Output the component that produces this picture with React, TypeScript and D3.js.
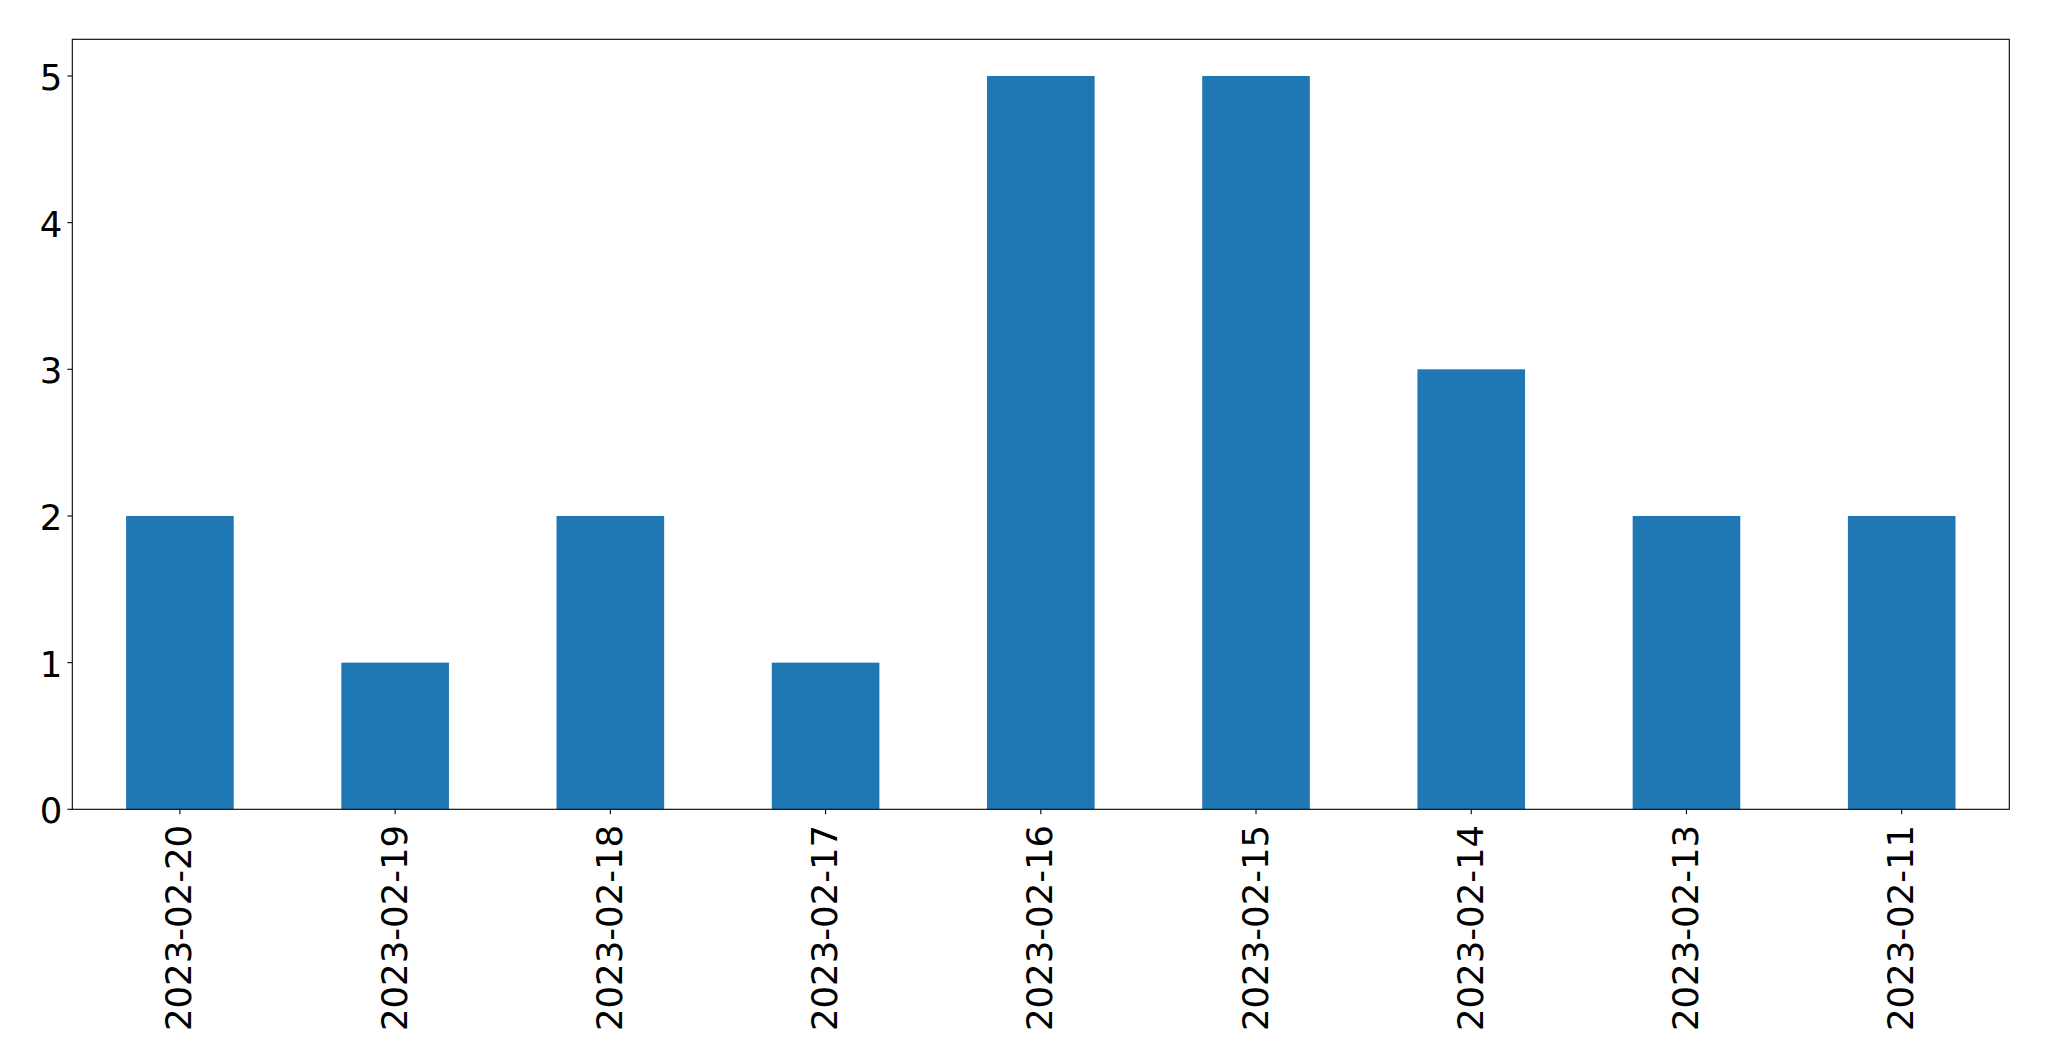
import { useEffect, useRef } from "react"
import * as d3 from "d3"

const dates = [
  "2023-02-20", "2023-02-19", "2023-02-18", "2023-02-17", "2023-02-16",
  "2023-02-15", "2023-02-14", "2023-02-13", "2023-02-11",
]
const counts = [2, 1, 2, 1, 5, 5, 3, 2, 2]
const yTicks = [0, 1, 2, 3, 4, 5]

const W = 2049
const H = 1061
const margin = { left: 72.3, right: W - 2009.3, top: 39.3, bottom: H - 809.3 }

export default function App() {
  const svgRef = useRef<SVGSVGElement>(null)

  useEffect(() => {
    const svg = d3.select(svgRef.current)
    svg.selectAll("*").remove()
    const x0 = margin.left
    const x1 = W - margin.right
    const y0 = H - margin.bottom
    const y1 = margin.top

    // matplotlib-like bar layout: positions 0..n-1, xlim -0.5..n-0.5
    const xScale = d3.scaleLinear().domain([-0.5, dates.length - 0.5]).range([x0, x1])
    const yScale = d3.scaleLinear().domain([0, 5.25]).range([y0, y1])
    const barW = xScale(0.5) - xScale(0)
    const font = "DejaVu Sans, sans-serif"
    const fontSize = "35.5px"

    svg.append("g")
      .selectAll("rect")
      .data(counts)
      .join("rect")
      .attr("x", (_, i) => xScale(i) - barW / 2)
      .attr("width", barW)
      .attr("y", d => yScale(d))
      .attr("height", d => y0 - yScale(d))
      .attr("fill", "#1f77b4")

    // frame
    svg.append("rect")
      .attr("x", x0).attr("y", y1)
      .attr("width", x1 - x0).attr("height", y0 - y1)
      .attr("fill", "none").attr("stroke", "black").attr("stroke-width", 1.1)

    // y axis
    const yAxis = svg.append("g")
    yAxis.selectAll("line")
      .data(yTicks)
      .join("line")
      .attr("x1", x0 - 4.9).attr("x2", x0)
      .attr("y1", d => yScale(d)).attr("y2", d => yScale(d))
      .attr("stroke", "black").attr("stroke-width", 1.1)
    yAxis.selectAll("text")
      .data(yTicks)
      .join("text")
      .attr("x", x0 - 10)
      .attr("y", d => yScale(d) + 1.5)
      .attr("text-anchor", "end")
      .attr("dominant-baseline", "central")
      .style("font-family", font)
      .style("font-size", fontSize)
      .text(d => d)

    // x axis
    const xAxis = svg.append("g")
    xAxis.selectAll("line")
      .data(dates)
      .join("line")
      .attr("x1", (_, i) => xScale(i)).attr("x2", (_, i) => xScale(i))
      .attr("y1", y0).attr("y2", y0 + 4.9)
      .attr("stroke", "black").attr("stroke-width", 1.1)
    xAxis.selectAll("text")
      .data(dates)
      .join("text")
      .attr("transform", (_, i) => `translate(${xScale(i) - 1},${y0 + 15.5}) rotate(-90)`)
      .attr("text-anchor", "end")
      .attr("dominant-baseline", "central")
      .style("font-family", font)
      .style("font-size", fontSize)
      .text(d => d)
  }, [])

  return (
    <svg
      ref={svgRef}
      width={W}
      height={H}
      style={{ position: "absolute", left: 0, top: 0, background: "#fff" }}
    />
  )
}
